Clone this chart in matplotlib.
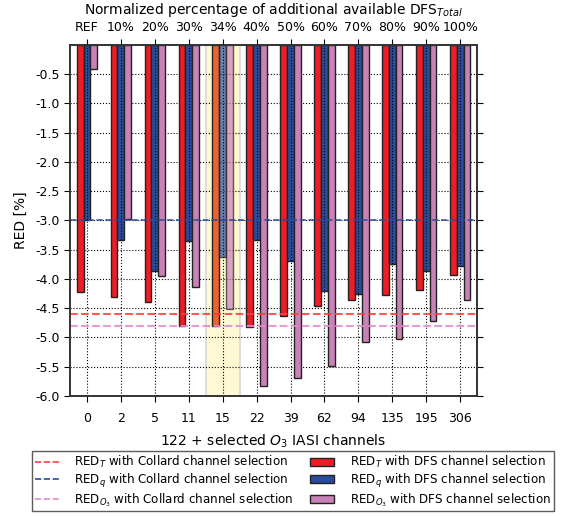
import numpy as np
import matplotlib
matplotlib.use("Agg")
import matplotlib.pyplot as plt
from matplotlib.lines import Line2D
from matplotlib.patches import Patch

# 数据
n_channels = ["0", "2", "5", "11", "15", "22", "39", "62", "94", "135", "195", "306"]
dfs_pct = ["REF", "10%", "20%", "30%", "34%", "40%", "50%", "60%", "70%", "80%", "90%", "100%"]
red_T = [-4.22, -4.31, -4.39, -4.81, -4.81, -4.82, -4.64, -4.47, -4.36, -4.27, -4.19, -3.93]
red_q = [-2.99, -3.33, -3.87, -3.36, -3.62, -3.34, -3.70, -4.21, -4.26, -3.74, -3.87, -3.78]
red_O3 = [-0.41, -2.97, -3.95, -4.14, -4.52, -5.83, -5.69, -5.49, -5.08, -5.03, -4.72, -4.36]
collard_T = -4.60
collard_q = -3.00
collard_O3 = -4.80
highlight = 4

c_red = "#ee1d25"
c_blue = "#2b4b9c"
c_pink = "#c882b8"
c_orange = "#ea6330"

plt.rcParams["font.family"] = "DejaVu Sans"

fig = plt.figure(figsize=(5.64, 5.16), dpi=100)
ax = fig.add_axes([0.124, 0.233, 0.722, 0.680])

x = np.arange(len(n_channels))
w = 0.2

ax.axvspan(highlight - 0.5, highlight + 0.5, facecolor="#fdf9d4", edgecolor="#d8d8d0",
           lw=1.2, zorder=0.5)

cols_T = [c_orange if i == highlight else c_red for i in x]
ax.bar(x - w, red_T, w, color=cols_T, edgecolor="#222222", lw=1, zorder=2)
for i in x:
    a = 0.7 if i == highlight else 1.0
    ax.bar(i, red_q[i], w, color=c_blue, alpha=a, edgecolor="#222222", lw=1, zorder=2)
    ax.bar(i + w, red_O3[i], w, color=c_pink, alpha=a, edgecolor="#222222", lw=1, zorder=2)

# 网格：水平在柱子下，竖直点线在柱子上
ax.set_axisbelow(True)
ax.yaxis.grid(True, linestyle=":", color="black", lw=0.8)
for i in x:
    ax.axvline(i, linestyle=":", color="black", lw=0.8, zorder=2.5)

ax.axhline(collard_T, color="#ff3b3b", ls="--", lw=1.5, alpha=0.85, zorder=3)
ax.axhline(collard_q, color="#2b4b9c", ls="--", lw=1.2, alpha=0.9, zorder=3)
ax.axhline(collard_O3, color="#e08ad0", ls="--", lw=1.5, alpha=0.85, zorder=3)

ax.set_xlim(-0.5, 11.5)
ax.set_ylim(-6.0, 0)
yt = np.arange(-0.5, -6.01, -0.5)
ax.set_yticks(yt)
ax.set_yticklabels([f"{v:.1f}" for v in yt], fontsize=9)
ax.set_xticks(x)
ax.set_xticklabels(n_channels, fontsize=9)
ax.tick_params(axis="y", right=True, direction="out", length=4, pad=3)
ax.tick_params(axis="x", direction="out", length=4, pad=8)
ax.set_ylabel("RED [%]", fontsize=10, labelpad=6)
ax.set_xlabel("122 + selected $O_3$ IASI channels", fontsize=10, labelpad=5)

ax_top = ax.twiny()
ax_top.set_xlim(ax.get_xlim())
ax_top.set_xticks(x)
ax_top.set_xticklabels(dfs_pct, fontsize=9)
ax_top.tick_params(axis="x", direction="out", length=4, pad=4)
ax_top.set_xlabel("Normalized percentage of additional available DFS$_{Total}$", fontsize=10,
                  labelpad=5)

for a_ in (ax, ax_top):
    for s in a_.spines.values():
        s.set_color("#333333")
        s.set_linewidth(1.2)

handles = [
    Line2D([], [], color="#ff3b3b", ls="--", lw=1.2),
    Line2D([], [], color="#2b4b9c", ls="--", lw=1.2),
    Line2D([], [], color="#e08ad0", ls="--", lw=1.2),
    Patch(facecolor=c_red, edgecolor="#222222"),
    Patch(facecolor=c_blue, edgecolor="#222222"),
    Patch(facecolor=c_pink, edgecolor="#222222"),
]
labels = [
    "RED$_T$ with Collard channel selection",
    "RED$_q$ with Collard channel selection",
    "RED$_{O_3}$ with Collard channel selection",
    "RED$_T$ with DFS channel selection",
    "RED$_q$ with DFS channel selection",
    "RED$_{O_3}$ with DFS channel selection",
]
leg = fig.legend(handles, labels, ncol=2, loc="upper center", bbox_to_anchor=(0.519, 0.126),
                 fontsize=8.6, frameon=True, fancybox=False, handlelength=2.0,
                 columnspacing=1.4, handletextpad=1.3, borderpad=0.25, labelspacing=0.12,
                 borderaxespad=0)
leg.get_frame().set_edgecolor("#333333")
leg.get_frame().set_linewidth(1.0)

fig.savefig("out.png", dpi=100)
